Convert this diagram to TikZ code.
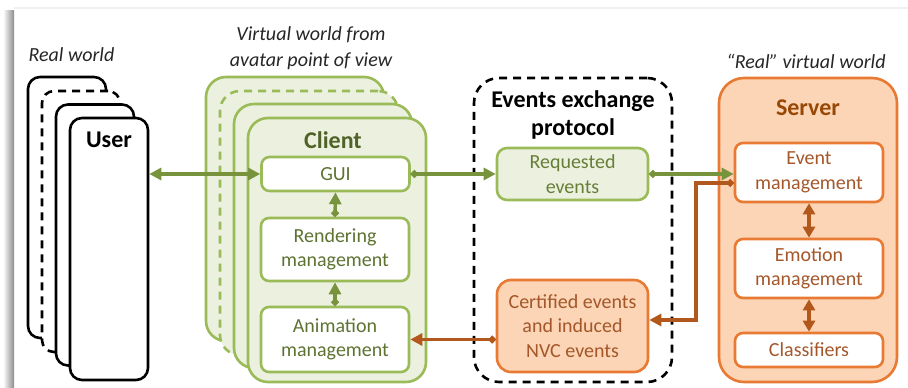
\documentclass[tikz,border=0pt]{standalone}
\usepackage{fontspec}
\setmainfont{Carlito}
\usetikzlibrary{arrows.meta}
\definecolor{gstroke}{HTML}{9BBB59}
\definecolor{gfill}{HTML}{EBF1DE}
\definecolor{gdark}{HTML}{4F6228}
\definecolor{gtext}{HTML}{5E7332}
\definecolor{garrow}{HTML}{77933C}
\definecolor{ostroke}{HTML}{E97A33}
\definecolor{ofill}{HTML}{FBD5B5}
\definecolor{odark}{HTML}{984806}
\definecolor{otext}{HTML}{A4572A}
\definecolor{oarrow}{HTML}{B3581C}
\begin{document}
\begin{tikzpicture}[x=1pt,y=-1pt,
  lw/.style={line width=2.6pt},
  aw/.style={line width=3.4pt},
  ubox/.style={lw, draw=black, fill=white, rounded corners=12pt, minimum width=78pt, minimum height=261pt, inner sep=0pt},
  cbox/.style={lw, draw=gstroke, fill=gfill, rounded corners=20pt, minimum width=178pt, minimum height=264pt, inner sep=0pt},
  dsh/.style={dash pattern=on 8pt off 6pt},
  gibox/.style={lw, draw=gstroke, fill=white, rounded corners=8pt, minimum width=148pt, inner sep=0pt, align=center, text=gtext, font=\fontsize{20}{24.4}\selectfont},
  oibox/.style={lw, draw=ostroke, fill=white, rounded corners=8pt, minimum width=148pt, inner sep=0pt, align=center, text=otext, font=\fontsize{20}{24.4}\selectfont},
  title/.style={font=\fontsize{24}{28}\selectfont\bfseries, align=center},
  lbl/.style={font=\fontsize{20}{26}\selectfont\itshape, align=center, text=black!85},
  gdot/.style={aw, draw=garrow, {Circle[length=7pt]}-{Triangle[length=12pt,width=12pt]}},
  odot/.style={aw, draw=oarrow, {Circle[length=7pt]}-{Triangle[length=12pt,width=12pt]}},
  obi/.style={aw, draw=oarrow, {Triangle[length=11pt,width=12pt]}-{Triangle[length=11pt,width=12pt]}},
  gbi/.style={aw, draw=garrow, {Triangle[length=12pt,width=12pt]}-{Triangle[length=12pt,width=12pt]}}
]
\useasboundingbox (0,0) rectangle (908,388);
% page shadow
\shade[left color=white, right color=black!45] (3,10) rectangle (14,388);
\fill[black!6] (14,7) rectangle (908,9);

% labels
\node[lbl] (lreal) at (71.5,55) {Real world};
\node[lbl] (lvirt) at (311,48) {Virtual world from\\avatar point of view};
\node[lbl] (lrv) at (806,61) {“Real” virtual world};

% user stack
\node[ubox] (u1) at (67,207.5) {};
\node[ubox, dsh] (u2) at (81,221.5) {};
\node[ubox] (u3) at (95,235) {};
\node[ubox, minimum height=262pt] (user) at (109,249) {};
\node[title] (userlbl) at (109,140) {User};

% client stack
\node[cbox] (c1) at (295,209) {};
\node[cbox, dsh] (c2) at (309,223) {};
\node[cbox] (c3) at (323,236) {};
\node[cbox] (client) at (337,250) {};
\node[title, text=gdark] (clientlbl) at (333,140) {Client};

\node[gibox, minimum height=34pt] (gui) at (335.5,174) {GUI};
\node[gibox, minimum height=63pt] (rend) at (335,249.5) {Rendering\\management};
\node[gibox, minimum height=65pt] (anim) at (335,339.5) {Animation\\management};

% protocol
\node[lw, draw=black, dsh, rounded corners=25pt, minimum width=198pt, minimum height=304pt] (proto) at (573,230) {};
\node[title] (protolbl) at (573,115) {Events exchange\\protocol};
\node[lw, draw=gstroke, fill=gfill, rounded corners=10pt, minimum width=151pt, minimum height=52pt, inner sep=0pt, align=center, text=gtext!85!gstroke, font=\fontsize{20}{24.4}\selectfont] (req) at (572.5,174) {Requested\\events};
\node[lw, draw=ostroke, fill=ofill, rounded corners=14pt, minimum width=151pt, minimum height=92pt, inner sep=0pt, align=center, text=otext, font=\fontsize{20}{24.4}\selectfont] (cert) at (572.5,326) {Certified events\\and induced\\NVC events};

% server
\node[lw, draw=ostroke, fill=ofill, rounded corners=25pt, minimum width=178pt, minimum height=304pt] (server) at (808,230) {};
\node[title, text=odark] (serverlbl) at (808,108) {Server};
\node[oibox, minimum height=59pt] (evt) at (809,172.5) {Event\\management};
\node[oibox, minimum height=59pt] (emo) at (809,268.5) {Emotion\\management};
\node[oibox, minimum height=34pt] (cls) at (809,350) {Classifiers};

% connectors
\draw[gbi] (gui.west -| user.east) -- (gui.west);
\draw[gdot] (anim.north) -- (rend.south);
\draw[gdot] (rend.north) -- (gui.south);
\draw[gdot] (gui.east) -- (req.west);
\draw[gdot] (req.east) -- (req.east -| evt.west);
\draw[obi] (evt.south) -- (emo.north);
\draw[obi] (emo.south) -- (cls.north);
\coordinate (turn) at (696,0);
\draw[odot] ([yshift=-10.5pt]evt.west) -| ([yshift=6pt]cert.east -| turn) -- ([yshift=6pt]cert.east);
\draw[odot] (cert.west |- anim.east) -- (anim.east);
\end{tikzpicture}
\end{document}
